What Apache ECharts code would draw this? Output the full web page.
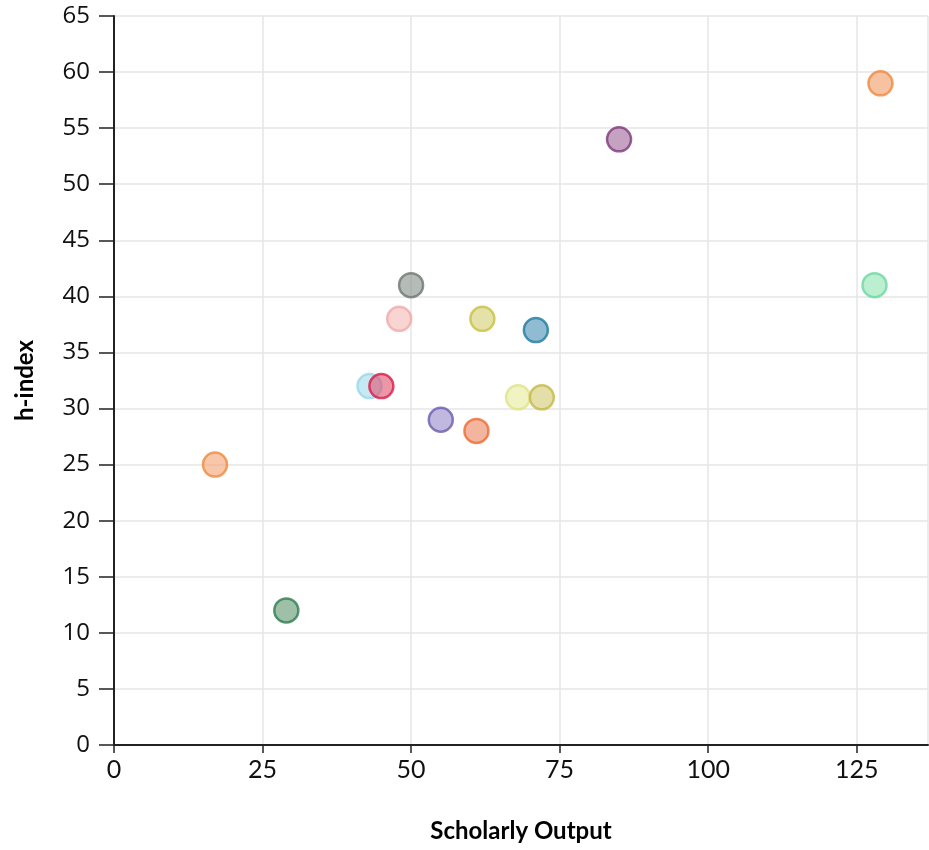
<!DOCTYPE html>
<html>
<head>
<meta charset="utf-8">
<script src="https://cdn.jsdelivr.net/npm/echarts@6/dist/echarts.min.js"></script>
<style>html,body{margin:0;padding:0;background:#fff}#c{width:929px;height:850px}</style>
</head>
<body>
<div id="c"></div>
<script>
const xName = 'Scholarly Output';
const yName = 'h-index';
const scholarlyOutput = [17, 29, 43, 45, 48, 50, 55, 61, 62, 68, 71, 72, 85, 128, 129];
const hIndex          = [25, 12, 32, 32, 38, 41, 29, 28, 38, 31, 37, 31, 54, 41, 59];
const fillColors   = ['rgba(243,160,110,0.75)','rgba(95,150,110,0.75)','rgba(160,220,236,0.75)','rgba(224,80,110,0.75)','rgba(244,184,180,0.75)','rgba(140,148,142,0.8)','rgba(150,136,200,0.75)','rgba(238,140,105,0.8)','rgba(214,210,120,0.8)','rgba(232,236,160,0.8)','rgba(80,150,185,0.8)','rgba(212,204,120,0.8)','rgba(164,110,160,0.8)','rgba(150,228,182,0.8)','rgba(243,160,110,0.8)'];
const borderColors = ['#f08a40','#2e7d4f','#9ad7e8','#d91a48','#f0aaa4','#6f7770','#6c5bb0','#ec6a33','#c8c040','#dfe48a','#1f7aa0','#c4b94a','#7d3a78','#6dd8a0','#f08a40'];

const data = scholarlyOutput.map((x, i) => ({
  value: [x, hIndex[i]],
  itemStyle: { color: fillColors[i], borderColor: borderColors[i], borderWidth: 2.5 }
}));

const chart = echarts.init(document.getElementById('c'), null, { renderer: 'canvas' });
chart.setOption({
  animation: false,
  grid: { left: 114, top: 16, right: 1, bottom: 105, containLabel: false },
  xAxis: {
    type: 'value', min: 0, max: 137, interval: 25,
    name: xName, nameLocation: 'middle', nameGap: 74,
    nameTextStyle: { fontFamily: 'Lato', fontWeight: 'bold', fontSize: 24, color: '#000' },
    axisLine: { show: true, lineStyle: { color: '#222', width: 2 } },
    axisTick: { show: true, inside: false, length: 8, lineStyle: { color: '#222', width: 1.5 } },
    axisLabel: { fontFamily: 'Lato', fontSize: 25, color: '#111', margin: 12, showMaxLabel: false },
    splitLine: { show: true, lineStyle: { color: '#e6e6e6', width: 1.5 } }
  },
  yAxis: {
    type: 'value', min: 0, max: 65, interval: 5,
    name: yName, nameLocation: 'middle', nameGap: 77, nameRotate: 90,
    nameTextStyle: { fontFamily: 'Lato', fontWeight: 'bold', fontSize: 24, color: '#000' },
    axisLine: { show: true, lineStyle: { color: '#222', width: 2 } },
    axisTick: { show: true, inside: false, length: 15, lineStyle: { color: '#222', width: 1.5 } },
    axisLabel: { fontFamily: '"Open Sans", sans-serif', fontSize: 24, color: '#111', margin: 24 },
    splitLine: { show: true, lineStyle: { color: '#e6e6e6', width: 1.5 } }
  },
  series: [{
    type: 'scatter',
    symbol: 'circle',
    symbolSize: 24,
    data: data
  }]
});
</script>
</body>
</html>
